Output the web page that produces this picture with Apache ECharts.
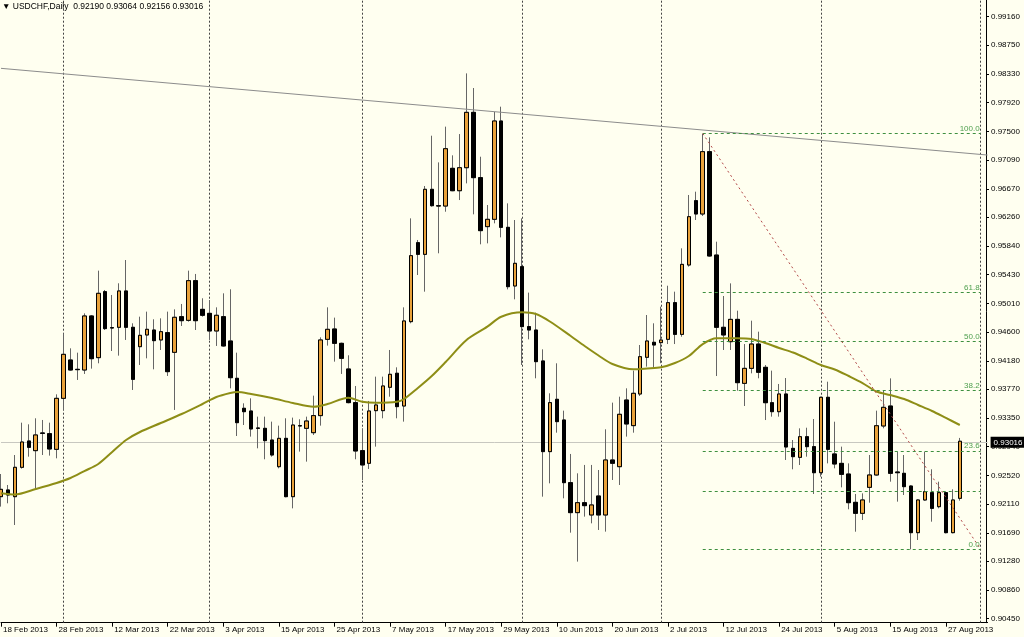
<!DOCTYPE html>
<html><head><meta charset="utf-8">
<script src="https://cdn.jsdelivr.net/npm/echarts/dist/echarts.min.js"></script>
<style>html,body{margin:0;padding:0;background:#FFFFF0;}#c{width:1024px;height:637px;}</style>
</head><body><div id="c"></div>
<script>
// trading days (daily bars) + future calendar slots
const tradingDays = [
  ['Feb', [18,19,20,21,22,25,26,27,28]],
  ['Mar', [1,4,5,6,7,8,11,12,13,14,15,18,19,20,21,22,25,26,27,28,29]],
  ['Apr', [1,2,3,4,5,8,9,10,11,12,15,16,17,18,19,22,23,24,25,26,29,30]],
  ['May', [1,2,3,6,7,8,9,10,13,14,15,16,17,20,21,22,23,24,27,28,29,30,31]],
  ['Jun', [3,4,5,6,7,10,11,12,13,14,17,18,19,20,21,24,25,26,27,28]],
  ['Jul', [1,2,3,4,5,8,9,10,11,12,15,16,17,18,19,22,23,24,25,26,29,30,31]],
  ['Aug', [1,2,5,6,7,8,9,12,13,14,15,16,19,20,21,22,23,26,27,28,29]]
];
const futureSlots = ['30 Aug 2013','31 Aug 2013','1 Sep 2013','2 Sep 2013'];
const categories = [];
tradingDays.forEach(([m, days]) => days.forEach(d => categories.push(d + ' ' + m + ' 2013')));
futureSlots.forEach(s => categories.push(s));

const open = [0.92214,0.92311,0.92214,0.92639,0.93020,0.92880,0.93136,0.93126,0.92899,0.93637,
0.94192,0.94057,0.94047,0.94829,0.94226,0.95181,0.94660,0.94665,0.95191,0.94665,
0.94385,0.94554,0.94626,0.94482,0.94588,0.94303,0.94819,0.94766,0.95340,0.94925,
0.94867,0.94612,0.94819,0.94467,0.93927,0.93493,0.93454,0.93203,0.93203,0.93034,
0.92648,0.93058,0.92214,0.93237,0.93203,0.93140,0.93387,0.94491,0.94641,0.94433,
0.94062,0.93575,0.92880,0.92697,0.93459,0.93459,0.93797,0.94000,0.93526,0.94747,
0.95890,0.95721,0.96662,0.96420,0.96420,0.96966,0.96642,0.96975,0.97776,0.96831,
0.96122,0.96228,0.97651,0.96112,0.95263,0.95543,0.94675,0.94626,0.94178,0.92866,
0.93623,0.93324,0.92417,0.91983,0.92127,0.91949,0.92224,0.91949,0.92745,0.92648,
0.93613,0.93242,0.93700,0.94231,0.94448,0.94443,0.94491,0.95022,0.94563,0.95567,
0.96498,0.96305,0.97207,0.95711,0.94665,0.94457,0.94780,0.93854,0.94071,0.94423,
0.94086,0.93574,0.93444,0.93700,0.92913,0.92783,0.93082,0.92938,0.92561,0.93652,
0.92832,0.92696,0.92542,0.92132,0.91973,0.92349,0.92528,0.93237,0.93526,0.92571,
0.92552,0.92368,0.91693,0.92166,0.92272,0.92069,0.92272,0.91693,0.92190];

const high = [0.92542,0.92383,0.92817,0.93285,0.93261,0.93348,0.93324,0.93285,0.93695,0.94578,
0.94361,0.94298,0.94867,0.94843,0.95485,0.95205,0.95133,0.95302,0.95639,0.94723,
0.94819,0.94892,0.94781,0.94795,0.94892,0.94925,0.95003,0.95485,0.95437,0.95085,
0.95060,0.94954,0.95157,0.95215,0.94298,0.93565,0.93637,0.93372,0.93372,0.93300,
0.93242,0.93348,0.93358,0.93334,0.93372,0.93676,0.94520,0.94954,0.94805,0.94443,
0.94260,0.93816,0.93203,0.93599,0.93951,0.93951,0.94337,0.94086,0.94954,0.96242,
0.95929,0.96710,0.97438,0.97052,0.97569,0.97154,0.97462,0.98340,0.98128,0.97134,
0.96435,0.97786,0.97858,0.96459,0.96218,0.96242,0.95167,0.94877,0.94346,0.93710,
0.94144,0.93459,0.92832,0.92552,0.92673,0.92673,0.92600,0.93189,0.93575,0.93661,
0.93782,0.94038,0.94409,0.94843,0.94723,0.94964,0.95267,0.95181,0.95808,0.96580,
0.96628,0.97463,0.97414,0.95904,0.95118,0.95301,0.94906,0.94423,0.94761,0.94602,
0.94119,0.94038,0.93845,0.93931,0.93034,0.93203,0.93212,0.93338,0.93661,0.93878,
0.93299,0.92938,0.92696,0.92253,0.92262,0.92817,0.93459,0.93748,0.93926,0.92865,
0.92817,0.92378,0.92176,0.92865,0.92610,0.92431,0.92282,0.92320,0.93064];

const low = [0.92070,0.92118,0.91804,0.92620,0.92793,0.92311,0.92817,0.92808,0.92769,0.93469,
0.94038,0.93903,0.93990,0.94067,0.94144,0.94626,0.94322,0.94255,0.94482,0.93758,
0.94120,0.94216,0.94057,0.94337,0.93961,0.93469,0.94684,0.94747,0.94626,0.94819,
0.94482,0.94395,0.94385,0.93782,0.93092,0.93251,0.93083,0.92914,0.92755,0.92793,
0.92624,0.92205,0.92045,0.92866,0.92721,0.93107,0.93242,0.94400,0.94168,0.93990,
0.93565,0.92755,0.92455,0.92615,0.92938,0.93348,0.93661,0.93348,0.93300,0.94723,
0.95422,0.95181,0.96411,0.95736,0.96338,0.96635,0.96507,0.96748,0.96300,0.95866,
0.95880,0.96170,0.95967,0.95214,0.95070,0.94120,0.94491,0.93927,0.92214,0.92407,
0.93140,0.92190,0.91693,0.91274,0.91925,0.91828,0.91732,0.91708,0.92455,0.92383,
0.93083,0.93140,0.93671,0.94096,0.94086,0.94144,0.94423,0.94423,0.94529,0.95543,
0.96218,0.96276,0.95687,0.93960,0.94337,0.94337,0.93748,0.93526,0.93999,0.93927,
0.93323,0.93372,0.93372,0.92745,0.92610,0.92672,0.92793,0.92253,0.92503,0.92696,
0.92624,0.92349,0.92031,0.91707,0.91876,0.92127,0.92518,0.93203,0.92431,0.92142,
0.92238,0.91452,0.91587,0.92156,0.91852,0.92045,0.91683,0.91683,0.92156];

const close = [0.92320,0.92238,0.92639,0.93005,0.92928,0.93107,0.93130,0.92904,0.93637,0.94274,
0.94047,0.94052,0.94829,0.94211,0.95157,0.94646,0.94655,0.95191,0.94665,0.93912,
0.94549,0.94636,0.94472,0.94602,0.94023,0.94810,0.94761,0.95340,0.94761,0.94839,
0.94612,0.94839,0.94395,0.93936,0.93285,0.93444,0.93194,0.93208,0.93025,0.92817,
0.93058,0.92214,0.93251,0.93242,0.93309,0.93387,0.94482,0.94636,0.94433,0.94216,
0.93575,0.92875,0.92673,0.93454,0.93541,0.93816,0.93985,0.93517,0.94757,0.95702,
0.95721,0.96662,0.96425,0.96425,0.97250,0.96642,0.96975,0.97776,0.96831,0.96064,
0.96228,0.97651,0.96112,0.95253,0.95591,0.94675,0.94626,0.94168,0.92866,0.93575,
0.93300,0.92417,0.91983,0.92127,0.92084,0.92094,0.91949,0.92745,0.92697,0.93406,
0.93266,0.93710,0.94240,0.94467,0.94409,0.94481,0.95022,0.94563,0.95576,0.96266,
0.96305,0.97207,0.95697,0.94665,0.94554,0.94780,0.93864,0.94071,0.94423,0.94014,
0.93574,0.93444,0.93700,0.92933,0.92793,0.93082,0.92938,0.92561,0.93652,0.92899,
0.92687,0.92537,0.92127,0.91973,0.92166,0.92528,0.93241,0.93507,0.92552,0.92561,
0.92359,0.91693,0.92166,0.92286,0.92045,0.92272,0.91693,0.92166,0.93016];

// moving average at these bars
const maBars = [0,2,5,8,10,12,14,16,18,20,23,26,29,31,33,34,36,39,42,45,47,50,52,54,57,58,60,62,64,67,70,72,75,77,79,82,84,86,88,91,93,95,97,99,101,103,106,108,110,112,114,116,118,120,122,124,126,128,130,132,134,136,138];
const maValues = [0.92263,0.92245,0.92325,0.92412,0.92484,0.92585,0.92687,0.92860,0.93034,0.93150,0.93280,0.93410,0.93555,0.93656,0.93714,0.93729,0.93700,0.93642,0.93570,0.93516,0.93555,0.93646,0.93588,0.93574,0.93588,0.93627,0.93787,0.93960,0.94163,0.94481,0.94674,0.94818,0.94882,0.94857,0.94749,0.94539,0.94394,0.94257,0.94134,0.94057,0.94069,0.94086,0.94148,0.94250,0.94423,0.94506,0.94506,0.94496,0.94438,0.94365,0.94300,0.94213,0.94119,0.94054,0.93960,0.93859,0.93736,0.93685,0.93627,0.93541,0.93454,0.93353,0.93251];

const yTicks = [0.90450,0.90860,0.91280,0.91690,0.92110,0.92520,0.92940,0.93350,0.93770,0.94180,0.94600,0.95010,0.95430,0.95840,0.96260,0.96670,0.97090,0.97500,0.97920,0.98330,0.98750,0.99160];
const monthStarts = ['1 Mar 2013','1 Apr 2013','1 May 2013','3 Jun 2013','1 Jul 2013','1 Aug 2013','1 Sep 2013'];
const trendLine = [['18 Feb 2013', 0.98413], ['2 Sep 2013', 0.97158]];
const fibFrom = '9 Jul 2013', fibTo = '1 Sep 2013';
const fibHigh = 0.97470, fibLow = 0.91452;
const fibLabels = ['100.0','61.8','50.0','38.2','23.6','','0.0'];
const fibPrices = [0.97470,0.95171,0.94461,0.93751,0.92872,0.92286,0.91452];

const last = close.length - 1;
const f5 = v => v.toFixed(5);
const FONT = 'Liberation Sans';

const wickData = open.map((o, i) => [o, close[i], low[i], high[i]]);
const bodyData = open.map((o, i) => [o, close[i], Math.min(o, close[i]), Math.max(o, close[i])]);

const chart = echarts.init(document.getElementById('c'), null, {renderer: 'canvas'});
chart.setOption({
  animation: false,
  backgroundColor: '#FFFFF0',
  textStyle: {fontFamily: FONT},
  title: {
    text: '\u25BC USDCHF,Daily  ' + [open[last], high[last], low[last], close[last]].map(f5).join(' '),
    left: 2, top: 2, padding: 0,
    textStyle: {fontSize: 8.5, fontWeight: 'normal', color: '#000', fontFamily: FONT}
  },
  grid: {left: 0, top: 0, width: 987.6, height: 622.7},
  xAxis: {
    type: 'category', data: categories, boundaryGap: false,
    axisLine: {lineStyle: {color: '#000', width: 1}},
    axisTick: {interval: 7, length: 4, lineStyle: {color: '#000'}},
    axisLabel: {interval: 7, align: 'left', margin: 3, padding: [0,0,0,2], fontSize: 8, color: '#000', fontFamily: FONT},
    splitLine: {show: false}
  },
  yAxis: {
    type: 'value', position: 'right', offset: -1.6,
    min: 0.90390, max: 0.99402, scale: true,
    axisLine: {show: true, lineStyle: {color: '#000'}},
    axisTick: {show: true, length: 3, customValues: yTicks, lineStyle: {color: '#000'}},
    axisLabel: {customValues: yTicks, formatter: v => f5(v), margin: 5, fontSize: 8, color: '#000', fontFamily: FONT},
    splitLine: {show: false}
  },
  series: [
    {
      name: 'wicks', type: 'candlestick', data: wickData, barWidth: 4, z: 2,
      itemStyle: {color: '#666', color0: '#666', borderColor: '#666', borderColor0: '#666', borderWidth: 1},
      markLine: {
        z: 1, symbol: 'none', silent: true,
        label: {show: false},
        lineStyle: {color: '#444', type: [2, 2], width: 1},
        data: monthStarts.map(m => ({xAxis: m}))
      }
    },
    {
      name: 'bodies', type: 'candlestick', data: bodyData, barWidth: 4, z: 3,
      itemStyle: {color: '#E9A23B', color0: '#000', borderColor: '#000', borderColor0: '#000', borderWidth: 1},
      markLine: {
        z: 1, symbol: 'none', silent: true,
        lineStyle: {color: '#C8C8C0', type: 'solid', width: 1},
        label: {show: true, position: 'end', distance: 3, formatter: () => f5(close[last]),
          backgroundColor: '#000', color: '#fff', padding: [2, 3, 1, 3], fontSize: 8, fontFamily: FONT},
        data: [{yAxis: close[last]}]
      }
    },
    {
      name: 'MA', type: 'line', data: maBars.map((b, i) => [b, maValues[i]]),
      showSymbol: false, smooth: 0.3, z: 4,
      lineStyle: {color: '#8E8E16', width: 2}
    },
    {
      name: 'trend', type: 'line', data: trendLine, showSymbol: false, z: 4,
      lineStyle: {color: '#8C8C8C', width: 1}
    },
    {
      name: 'fibDiag', type: 'line', data: [[fibFrom, fibHigh], [fibTo, fibLow]], showSymbol: false, z: 5,
      lineStyle: {color: '#B24848', width: 1, type: [2, 3]},
      markLine: {
        z: 5, symbol: 'none', silent: true,
        lineStyle: {color: '#3E9040', type: [3, 3], width: 1},
        label: {show: true, position: 'insideEndTop', distance: 1, formatter: '{b}', color: '#4E9F4E', fontSize: 8, fontFamily: FONT},
        data: fibPrices.map((p, i) => [{name: fibLabels[i], coord: [fibFrom, p]}, {coord: [fibTo, p]}])
      }
    }
  ]
});
</script></body></html>
